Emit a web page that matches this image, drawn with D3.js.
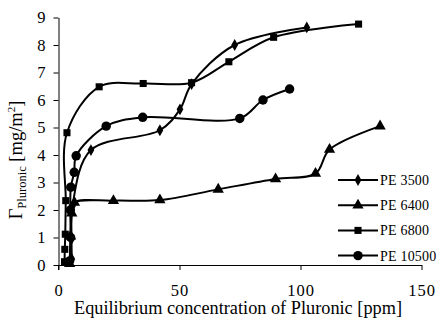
<!DOCTYPE html>
<html>
<head>
<meta charset="utf-8">
<script src="https://cdn.jsdelivr.net/npm/d3@7"></script>
<style>
  body { margin: 0; background: #fff; }
</style>
</head>
<body>
<div id="chart"></div>
<script>
// values: [concentration ppm, adsorbed amount mg/m2]
var pe3500 = [[5.5, 0.22], [5.4, 0.95], [5.8, 2.15], [13.4, 4.18], [41.9, 4.9], [50.2, 5.66], [55, 6.58], [72.8, 8.0], [102.6, 8.64]];
var pe6400 = [[4.6, 0.05], [5.0, 1.05], [5.5, 1.88], [6.6, 2.27], [22.7, 2.34], [41.9, 2.36], [66, 2.75], [89.7, 3.13], [106.2, 3.33], [112, 4.2], [132.9, 5.05]];
var pe6800 = [[2.5, 0.12], [2.6, 0.57], [2.8, 1.12], [3.0, 2.34], [3.5, 4.81], [16.8, 6.48], [35, 6.6], [55, 6.63], [70.4, 7.39], [88.9, 8.28], [124, 8.76]];
var pe10500 = [[4.6, 0.15], [5.0, 1.0], [4.9, 2.0], [5.1, 2.83], [6.5, 3.37], [7.3, 3.97], [19.7, 5.05], [34.8, 5.37], [74.9, 5.33], [84.5, 6.0], [95.5, 6.4]];

var seriesNames = ["PE 3500", "PE 6400", "PE 6800", "PE 10500"];
var seriesData = [pe3500, pe6400, pe6800, pe10500];
var seriesMarks = ["diamond", "triangle", "square", "circle"];

var xTicks = [0, 50, 100, 150];
var yTicks = [0, 1, 2, 3, 4, 5, 6, 7, 8, 9];

var width = 436, height = 320;
var serif = "Liberation Serif";

var svg = d3.select("#chart")
    .append("svg")
    .attr("width", width)
    .attr("height", height)
    .attr("font-family", serif);

var x = d3.scaleLinear().domain([0, 150]).range([58.5, 421.5]);
var y = d3.scaleLinear().domain([0, 9]).range([265, 17.5]);

// axes
var xAxis = svg.append("g")
    .attr("transform", "translate(0,265)")
    .call(d3.axisBottom(x).tickValues(xTicks).tickSize(5).tickSizeOuter(0).tickPadding(14));
var yAxis = svg.append("g")
    .attr("transform", "translate(58.5,0)")
    .call(d3.axisLeft(y).tickValues(yTicks).tickSize(5).tickSizeOuter(0).tickPadding(7));

[xAxis, yAxis].forEach(function (g) {
    g.attr("font-family", serif).attr("font-size", 16.5);
    g.select(".domain").attr("stroke", "#000").attr("stroke-width", 1);
    g.selectAll(".tick line").attr("stroke", "#000");
    g.selectAll(".tick text")
        .attr("letter-spacing", 1)
        .attr("fill", "#000");
});
// y axis line runs a little below the x axis
svg.append("line")
    .attr("x1", 58.5).attr("x2", 58.5)
    .attr("y1", 265).attr("y2", 270)
    .attr("stroke", "#000");

// titles
svg.append("text")
    .attr("x", 238)
    .attr("y", 314)
    .attr("text-anchor", "middle")
    .attr("font-size", 18.3)
    .text("Equilibrium concentration of Pluronic [ppm]");

var yt = svg.append("text")
    .attr("transform", "translate(22,160) rotate(-90)")
    .attr("text-anchor", "middle")
    .attr("font-size", 18.5);
yt.append("tspan").text("\u0393");
yt.append("tspan").attr("dy", 4).attr("font-size", 12.5).text("Pluronic");
yt.append("tspan").attr("dy", -4).text(" [mg/m");
yt.append("tspan").attr("dy", -7).attr("font-size", 11).text("2");
yt.append("tspan").attr("dy", 7).text("]");

// marker shapes
var symbolFor = {
    diamond: d3.symbol().type(d3.symbolDiamond).size(40),
    triangle: d3.symbol().type(d3.symbolTriangle).size(55),
    square: d3.symbol().type(d3.symbolSquare).size(50),
    circle: d3.symbol().type(d3.symbolCircle).size(70)
};

var line = d3.line()
    .x(function (d) { return x(d[0]); })
    .y(function (d) { return y(d[1]); })
    .curve(d3.curveCatmullRom.alpha(0.5));

seriesData.forEach(function (data, i) {
    var g = svg.append("g");
    g.append("path")
        .attr("d", line(data))
        .attr("fill", "none")
        .attr("stroke", "#000")
        .attr("stroke-width", 2);
    g.selectAll("path.mark")
        .data(data)
        .join("path")
        .attr("class", "mark")
        .attr("d", symbolFor[seriesMarks[i]])
        .attr("transform", function (d) { return "translate(" + x(d[0]) + "," + y(d[1]) + ")"; })
        .attr("fill", "#000");
});

// legend
var legend = svg.append("g")
    .selectAll("g")
    .data(seriesNames)
    .join("g")
    .attr("transform", function (d, i) { return "translate(338," + (180 + i * 25.2) + ")"; });
legend.append("line")
    .attr("x1", 0).attr("x2", 40)
    .attr("stroke", "#000").attr("stroke-width", 2);
legend.append("path")
    .attr("d", function (d, i) { return symbolFor[seriesMarks[i]](); })
    .attr("transform", "translate(20,0)")
    .attr("fill", "#000");
legend.append("text")
    .attr("x", 42)
    .attr("y", 5)
    .attr("font-size", 14)
    .attr("letter-spacing", 0.2)
    .text(function (d) { return d; });
</script>
</body>
</html>
